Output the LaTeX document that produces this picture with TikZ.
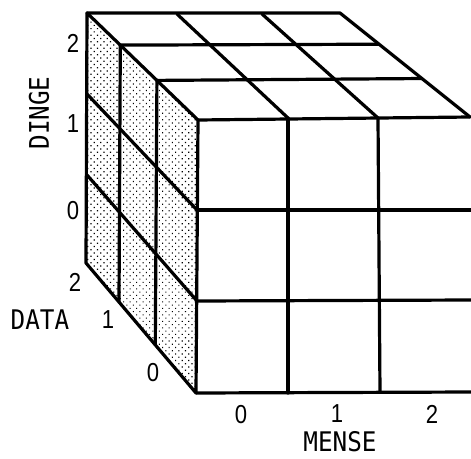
\documentclass[tikz,border=0pt]{standalone}
\usepackage{fontspec}
\usepackage{graphicx}
\usetikzlibrary{calc,patterns.meta}
\newfontfamily\wordfont{DejaVu Sans Mono}
\newfontfamily\digitfont{Liberation Sans}
\tikzset{
  edge/.style={line width=3.2pt, line cap=round, line join=round},
  word/.style={font=\wordfont\fontsize{27}{27}\selectfont, inner sep=0pt},
  digit/.style={font=\digitfont\fontsize{26}{26}\selectfont, inner sep=0pt},
  stipple/.style={pattern={Dots[radius=0.85pt, distance=4.6pt, angle=45]}}
}
\newcommand{\sq}[1]{\scalebox{0.9}[1]{#1}}
\newcommand{\dg}[1]{\scalebox{0.85}[1]{#1}}
\begin{document}
\begin{tikzpicture}[x=1pt,y=-1pt]
\useasboundingbox (0,0) rectangle (471,458);
% left face edges
\coordinate (B0) at (87,13);
\coordinate (B1) at (87,94);
\coordinate (B2) at (87,175);
\coordinate (B3) at (86,263);
\coordinate (F0) at (198,120);
\coordinate (F1) at (197,210);
\coordinate (F2) at (197,301);
\coordinate (F3) at (196,393);
% top face back and front rows
\coordinate (T10) at (177,14);
\coordinate (T20) at (262,14);
\coordinate (T30) at (340,13);
\coordinate (T13) at (288,118);
\coordinate (T23) at (378,118);
\coordinate (T33) at (470,117);
% front face right side and bottom
\coordinate (R1) at (471,210);
\coordinate (R2) at (471,300);
\coordinate (R3) at (471,392);
\coordinate (D1) at (288,393);
\coordinate (D2) at (380,392);
% intermediate depth positions
\coordinate (L1t) at ($(B0)!0.3!(F0)$);
\coordinate (L2t) at ($(B0)!0.63!(F0)$);
\coordinate (L1b) at ($(B3)!0.3!(F3)$);
\coordinate (L2b) at ($(B3)!0.63!(F3)$);
\coordinate (M1r) at ($(T30)!0.3!(T33)$);
\coordinate (M2r) at ($(T30)!0.63!(T33)$);

% stippled left face
\path[stipple] (B0) -- (F0) -- (F3) -- (B3) -- cycle;

% left face
\draw[edge] (B0) -- (F0) -- (F3) -- (B3) -- cycle;
\draw[edge] (B1) -- (F1);
\draw[edge] (B2) -- (F2);
\draw[edge] (L1t) -- (L1b);
\draw[edge] (L2t) -- (L2b);

% top face
\draw[edge] (B0) -- (T30) -- (T33);
\draw[edge] (F0) -- (T33);
\draw[edge] (L1t) -- (M1r);
\draw[edge] (L2t) -- (M2r);
\draw[edge] (T10) -- (T13);
\draw[edge] (T20) -- (T23);

% front face
\draw[edge] (F1) -- (R1);
\draw[edge] (F2) -- (R2);
\draw[edge] (F3) -- (R3);
\draw[edge] (T13) -- (D1);
\draw[edge] (T23) -- (D2);

% labels
\node[word, rotate=90] (dinge) at (39,113) {\sq{DINGE}};
\node[digit] (d2) at (73,43) {\dg{2}};
\node[digit] (d1) at (73,124) {\dg{1}};
\node[digit] (d0) at (73,211) {\dg{0}};
\node[word] (data) at (40,320) {\sq{DATA}};
\node[digit] (a2) at (75,282) {\dg{2}};
\node[digit] (a1) at (108,320) {\dg{1}};
\node[digit] (a0) at (153,373) {\dg{0}};
\node[digit] (m0) at (241,415) {\dg{0}};
\node[digit] (m1) at (337,414) {\dg{1}};
\node[digit] (m2) at (432,414) {\dg{2}};
\node[word] (mense) at (340,442) {\sq{MENSE}};
\end{tikzpicture}
\end{document}
